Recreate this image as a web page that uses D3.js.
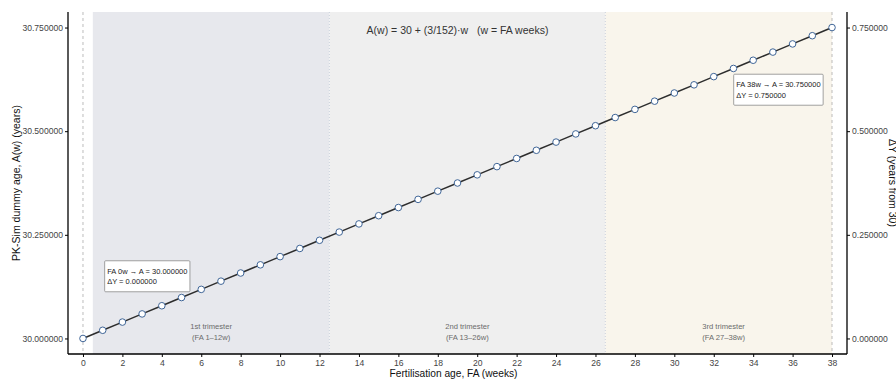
<!DOCTYPE html>
<html><head><meta charset="utf-8">
<script src="https://cdn.jsdelivr.net/npm/d3@7"></script>
<style>
body{margin:0;background:#fff;}
svg{display:block;font-family:"Liberation Sans",Arial,Helvetica,sans-serif;}
</style></head>
<body><svg id="c" width="896" height="379"></svg>
<script>
const weeks = [0,1,2,3,4,5,6,7,8,9,10,11,12,13,14,15,16,17,18,19,20,21,22,23,24,25,26,27,28,29,30,31,32,33,34,35,36,37,38];
const ages = [30.0000,30.0197,30.0395,30.0592,30.0789,30.0987,30.1184,30.1382,30.1579,30.1776,
              30.1974,30.2171,30.2368,30.2566,30.2763,30.2961,30.3158,30.3355,30.3553,30.3750,
              30.3947,30.4145,30.4342,30.4539,30.4737,30.4934,30.5132,30.5329,30.5526,30.5724,
              30.5921,30.6118,30.6316,30.6513,30.6711,30.6908,30.7105,30.7303,30.7500];
const xTicks = [0,2,4,6,8,10,12,14,16,18,20,22,24,26,28,30,32,34,36,38];
const yTicks = [30.0,30.25,30.5,30.75];
const dyTicks = [0,0.25,0.5,0.75];
const trimesters = [
  {name:"1st trimester", range:"(FA 1\u201312w)", x0:0.5, x1:12.5, mid:6.5, fill:"#e7e8ed"},
  {name:"2nd trimester", range:"(FA 13\u201326w)", x0:12.5, x1:26.5, mid:19.5, fill:"#efefef"},
  {name:"3rd trimester", range:"(FA 27\u201338w)", x0:26.5, x1:38, mid:32.5, fill:"#f9f5ec"}
];
const annotations = [
  {lines:["FA 0w \u2192 A = 30.000000","\u0394Y = 0.000000"], ax:1.1, ay:30.15, anchor:"left"},
  {lines:["FA 38w \u2192 A = 30.750000","\u0394Y = 0.750000"], ax:37.55, ay:30.6, anchor:"right"}
];
const formula = "A(w) = 30 + (3/152)\u00b7w   (w = FA weeks)";

const W=896,H=379, L=68, R=847, T=12, B=354;
const svg = d3.select("#c");
const x = d3.scaleLinear().domain([-0.76,38.76]).range([L,R]);
const y = d3.scaleLinear().domain([29.9625,30.7875]).range([B,T]);
const y2 = d3.scaleLinear().domain([-0.0375,0.7875]).range([B,T]);

// trimester shading
svg.selectAll("rect.tri").data(trimesters).join("rect")
  .attr("x",d=>x(d.x0)).attr("width",d=>x(d.x1)-x(d.x0))
  .attr("y",T).attr("height",B-T).attr("fill",d=>d.fill);
// boundaries
svg.selectAll("line.bd").data([12.5,26.5]).join("line")
  .attr("x1",d=>x(d)).attr("x2",d=>x(d)).attr("y1",T).attr("y2",B)
  .attr("stroke","#b9c4d4").attr("stroke-width",0.7).attr("stroke-dasharray","1,2");
// dashed reference lines at 0 and 38
svg.selectAll("line.ref").data([0,38]).join("line")
  .attr("x1",d=>x(d)).attr("x2",d=>x(d)).attr("y1",T).attr("y2",B)
  .attr("stroke","#a0a0a0").attr("stroke-width",0.7).attr("stroke-dasharray","3,3");

// trimester labels
const tl = svg.selectAll("text.tl").data(trimesters).join("text")
  .attr("text-anchor","middle").attr("font-size",7.6).attr("fill","#6b6b6b");
tl.append("tspan").attr("x",d=>x(d.mid)).attr("y",328.5).text(d=>d.name);
tl.append("tspan").attr("x",d=>x(d.mid)).attr("y",339.5).text(d=>d.range);

// formula
svg.append("text").attr("x",x(19)).attr("y",33.5).attr("text-anchor","middle")
  .attr("font-size",10.5).attr("fill","#333").style("white-space","pre").text(formula);

// line and points
const line = d3.line().x((d,i)=>x(weeks[i])).y(d=>y(d));
svg.append("path").datum(ages).attr("d",line).attr("fill","none")
  .attr("stroke","#2d2d2d").attr("stroke-width",1.5);
svg.selectAll("circle.pt").data(ages).join("circle")
  .attr("cx",(d,i)=>x(weeks[i])).attr("cy",d=>y(d)).attr("r",3.3)
  .attr("fill","#fff").attr("stroke","#3f6597").attr("stroke-width",1);

// annotation boxes
annotations.forEach(a=>{
  const g = svg.append("g");
  const t = g.append("text").attr("font-size",7.5).attr("fill","#222");
  a.lines.forEach((s,i)=>t.append("tspan").attr("x",0).attr("y",i*10.5).text(s));
  const bb = t.node().getBBox();
  const pw=2.5, ph=3;
  const bw = bb.width+pw*2, bh = 31;
  const bx = a.anchor==="left" ? x(a.ax) : x(a.ax)-bw;
  const by = y(a.ay)-bh/2;
  g.insert("rect","text").attr("x",bx).attr("y",by).attr("width",bw).attr("height",bh)
    .attr("rx",1).attr("fill","#fff").attr("stroke","#8a8a8a").attr("stroke-width",0.8);
  t.attr("transform",`translate(${bx+pw},${by+bh/2-2.5})`);
});

// axes
const ax = svg.append("g").attr("transform",`translate(0,${B})`)
  .call(d3.axisBottom(x).tickValues(xTicks).tickSize(3).tickPadding(3).tickSizeOuter(0));
const ay = svg.append("g").attr("transform",`translate(${L},0)`)
  .call(d3.axisLeft(y).tickValues(yTicks).tickFormat(d3.format(".6f")).tickSize(3).tickPadding(2).tickSizeOuter(0));
const ay2 = svg.append("g").attr("transform",`translate(${R},0)`)
  .call(d3.axisRight(y2).tickValues(dyTicks).tickFormat(d3.format(".6f")).tickSize(3).tickPadding(2).tickSizeOuter(0));
[ax,ay,ay2].forEach(g=>{
  g.select(".domain").attr("stroke","#000").attr("stroke-width",1.3);
  g.selectAll(".tick line").attr("stroke","#000").attr("stroke-width",1);
  g.selectAll(".tick text").attr("font-size",8.6).attr("fill","#444").attr("font-family",null);
});
ax.select(".domain").attr("d",`M${L},0H${R}`);
ay.select(".domain").attr("d",`M0,${T}V${B}`);
ay2.select(".domain").attr("d",`M0,${T}V${B}`);

// axis titles
svg.append("text").attr("x",(L+R)/2-4).attr("y",377).attr("text-anchor","middle")
  .attr("font-size",10.2).attr("fill","#111").text("Fertilisation age, FA (weeks)");
svg.append("text").attr("transform",`translate(19.5,${(T+B)/2}) rotate(-90)`).attr("text-anchor","middle")
  .attr("font-size",10.5).attr("fill","#111").text("PK-Sim dummy age, A(w) (years)");
svg.append("text").attr("transform",`translate(888.5,${(T+B)/2}) rotate(90)`).attr("text-anchor","middle")
  .attr("font-size",10.5).attr("fill","#111").text("\u0394Y (years from 30)");
</script></body></html>
